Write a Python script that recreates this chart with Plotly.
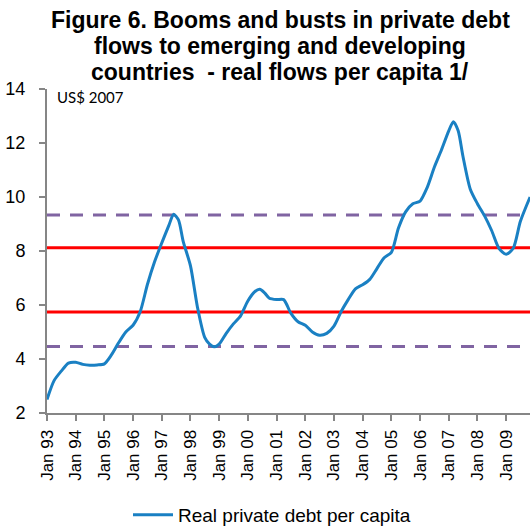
import plotly.graph_objects as go

# Real private debt flows per capita (US$ 2007)
dates = [
    "1993-01-01", "1993-04-01", "1993-07-01", "1993-10-01",
    "1994-01-01", "1994-04-01", "1994-07-01", "1994-10-01",
    "1995-01-01", "1995-04-01", "1995-07-01", "1995-10-01",
    "1996-01-01", "1996-04-01", "1996-07-01", "1996-10-01",
    "1997-01-01", "1997-04-01", "1997-06-01", "1997-08-01", "1997-10-01",
    "1998-01-01", "1998-04-01", "1998-07-01", "1998-09-01", "1998-11-01",
    "1999-01-01", "1999-04-01", "1999-07-01", "1999-10-01",
    "2000-01-01", "2000-04-01", "2000-06-01", "2000-08-01", "2000-10-01",
    "2001-01-01", "2001-04-01", "2001-07-01", "2001-10-01",
    "2002-01-01", "2002-04-01", "2002-07-01", "2002-10-01",
    "2003-01-01", "2003-04-01", "2003-07-01", "2003-10-01",
    "2004-01-01", "2004-04-01", "2004-07-01", "2004-10-01",
    "2005-01-01", "2005-04-01", "2005-07-01", "2005-10-01",
    "2006-01-01", "2006-04-01", "2006-07-01", "2006-10-01",
    "2007-01-01", "2007-03-01", "2007-05-01", "2007-07-01", "2007-10-01",
    "2008-01-01", "2008-04-01", "2008-07-01", "2008-10-01",
    "2009-01-01", "2009-04-01", "2009-07-01", "2009-11-01",
]
debt_per_capita = [
    2.50, 3.20, 3.55, 3.85,
    3.88, 3.80, 3.77, 3.78,
    3.82, 4.15, 4.60, 5.00,
    5.25, 5.75, 6.75, 7.60,
    8.30, 8.95, 9.36, 9.15, 8.35,
    7.45, 5.90, 4.80, 4.55, 4.45,
    4.55, 4.95, 5.30, 5.60,
    6.15, 6.50, 6.58, 6.45, 6.25,
    6.20, 6.20, 5.70, 5.38,
    5.25, 5.00, 4.88, 4.95,
    5.22, 5.75, 6.20, 6.60,
    6.75, 6.95, 7.35, 7.75,
    7.95, 8.85, 9.45, 9.75,
    9.85, 10.35, 11.10, 11.75,
    12.45, 12.79, 12.45, 11.50, 10.30,
    9.75, 9.30, 8.75, 8.10,
    7.88, 8.10, 9.10, 10.00,
]
series_name = "Real private debt per capita"

# Reference bands (mean +/- 1 and 2 standard deviations)
red_levels = [8.12, 5.74]
purple_levels = [9.33, 4.46]

y_ticks = [2, 4, 6, 8, 10, 12, 14]
x_ticks = ["%d-01-01" % y for y in range(1993, 2010)]
x_labels = ["Jan %02d" % (y % 100) for y in range(1993, 2010)]

title_lines = [
    "Figure 6. Booms and busts in private debt",
    "flows to emerging and developing",
    "countries  - real flows per capita 1/",
]
unit_label = "US$ 2007"

# figure geometry (pixels)
W, H = 530, 529
L, R, T, B = 47, 0, 89, 116
PW = W - L - R
PH = H - T - B


def xpaper(pix):
    return (pix - L) / PW


def ypaper(pix):
    return (H - B - pix) / PH


fig = go.Figure()

for lvl in purple_levels:
    fig.add_hline(y=lvl, line=dict(color="#8064A2", width=3, dash="13px,10px"), layer="below")
for lvl in red_levels:
    fig.add_hline(y=lvl, line=dict(color="#FF0000", width=3), layer="below")

fig.add_trace(go.Scatter(
    x=dates, y=debt_per_capita, mode="lines", name=series_name,
    line=dict(color="#1A80C3", width=3, shape="spline", smoothing=0.7),
    showlegend=True,
))

annotations = []
for txt, ypix in zip(title_lines, [20, 46, 72]):
    annotations.append(dict(
        text="<b>%s</b>" % txt, x=xpaper(280), xref="paper", xanchor="center",
        y=ypaper(ypix), yref="paper", yanchor="middle", showarrow=False,
        font=dict(family="Liberation Sans, Arial, sans-serif", size=23, color="black"),
    ))
annotations.append(dict(
    text=unit_label, x=xpaper(55), xref="paper", xanchor="left",
    y=ypaper(97), yref="paper", yanchor="middle", showarrow=False,
    font=dict(family="Lato, Open Sans, sans-serif", size=15, color="black"),
))

fig.update_layout(
    width=W, height=H,
    margin=dict(l=L, r=R, t=T, b=B, autoexpand=False),
    paper_bgcolor="white", plot_bgcolor="white",
    font=dict(family="Liberation Sans, Arial, sans-serif", size=17, color="black"),
    showlegend=True,
    legend=dict(
        orientation="h", x=xpaper(128), xanchor="left", xref="paper",
        y=ypaper(515), yanchor="middle", yref="paper",
        font=dict(size=19), bgcolor="rgba(0,0,0,0)", itemwidth=40,
    ),
    xaxis=dict(
        type="date", range=["1993-01-01", "2009-10-31"], automargin=False,
        tickvals=x_ticks, ticktext=x_labels, tickangle=-90,
        showgrid=False, zeroline=False,
        showline=True, linecolor="#868686", linewidth=2,
        ticks="outside", ticklen=6, tickcolor="#868686", tickwidth=2,
        tickfont=dict(size=17), ticklabelstandoff=2, ticklabeloverflow="allow",
    ),
    yaxis=dict(
        range=[2, 14], tickvals=y_ticks, automargin=False,
        showgrid=False, zeroline=False,
        showline=True, linecolor="#868686", linewidth=2,
        ticks="outside", ticklen=6, tickcolor="#868686", tickwidth=2,
        tickfont=dict(size=18), ticklabelstandoff=10,
    ),
    annotations=annotations,
)

fig.write_html(
    "out.html",
    config={"displayModeBar": False},
    post_script="document.body.style.margin='0px';document.body.style.overflow='hidden';",
)
